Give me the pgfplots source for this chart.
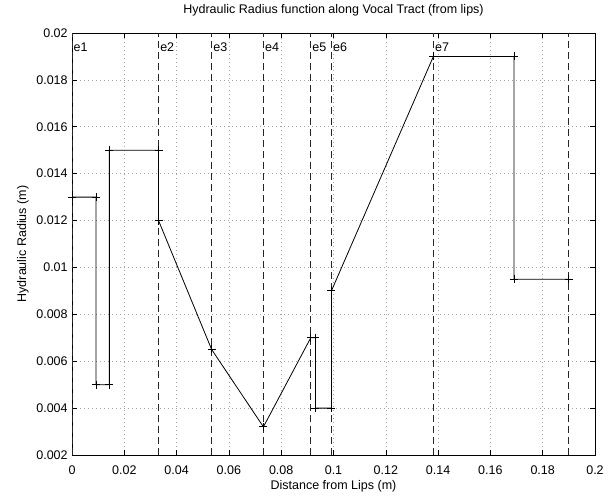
\documentclass[border=0pt]{standalone}
\usepackage{fontspec}
\setmainfont{Liberation Sans}
\usepackage{pgfplots}
\pgfplotsset{compat=1.18}

\begin{document}
\fontsize{12.5bp}{15bp}\selectfont
\begin{tikzpicture}
\path (0,0) rectangle (614bp,495bp);
\begin{axis}[
  at={(72bp,40bp)}, anchor=south west,
  scale only axis, width=523bp, height=422bp,
  xmin=0, xmax=0.2, ymin=0.002, ymax=0.02,
  xtick={0,0.02,0.04,0.06,0.08,0.1,0.12,0.14,0.16,0.18,0.2},
  ytick={0.002,0.004,0.006,0.008,0.01,0.012,0.014,0.016,0.018,0.02},
  scaled ticks=false,
  /pgf/number format/.cd, fixed, precision=3, assume math mode=true, /pgfplots/.cd,
  tick align=inside, major tick length=5bp,
  tick style={black, line width=0.6bp},
  axis line style={black, line width=0.9bp},
  grid=major,
  grid style={gray!70, line width=0.6bp, dash pattern=on 1bp off 3bp},
  xticklabel style={yshift=-6bp},
  title={Hydraulic Radius function along Vocal Tract (from lips)},
  title style={at={(0.5,1)}, anchor=base, yshift=13.5bp},
  xlabel={Distance from Lips (m)},
  xlabel style={at={(0.5,0)}, anchor=base, yshift=-34.3bp},
  ylabel={Hydraulic Radius (m)},
  ylabel style={at={(-0.0937,0.5)}, anchor=center},
  every axis plot/.append style={line width=0.8bp},
]
% boundary lines e1..e7 and end
\addplot[black!85, dash pattern=on 7bp off 4bp] coordinates {(0,0.002) (0,0.02)};
\addplot[black!85, dash pattern=on 7bp off 4bp] coordinates {(0.0331,0.002) (0.0331,0.02)};
\addplot[black!85, dash pattern=on 7bp off 4bp] coordinates {(0.0534,0.002) (0.0534,0.02)};
\addplot[black!85, dash pattern=on 7bp off 4bp] coordinates {(0.0732,0.002) (0.0732,0.02)};
\addplot[black!85, dash pattern=on 7bp off 4bp] coordinates {(0.0913,0.002) (0.0913,0.02)};
\addplot[black!85, dash pattern=on 7bp off 4bp] coordinates {(0.0992,0.002) (0.0992,0.02)};
\addplot[black!85, dash pattern=on 7bp off 4bp] coordinates {(0.1382,0.002) (0.1382,0.02)};
\addplot[black!85, dash pattern=on 7bp off 4bp] coordinates {(0.190,0.002) (0.190,0.02)};

% hydraulic radius
\addplot[black, mark=+, mark size=4bp, mark options={solid, line width=0.8bp}] coordinates {
  (0,0.013) (0.0092,0.013) (0.0092,0.005) (0.0143,0.005) (0.0143,0.015)
  (0.0331,0.015) (0.0331,0.012) (0.0534,0.0065) (0.0732,0.0032)
  (0.0913,0.007) (0.0931,0.007) (0.0931,0.004) (0.0992,0.004) (0.0992,0.009)
  (0.1382,0.019) (0.169,0.019) (0.169,0.0095) (0.190,0.0095)
};

\node[anchor=west, inner sep=1.5bp] at (axis cs:0,0.0194) {e1};
\node[anchor=west, inner sep=1.5bp] at (axis cs:0.0331,0.0194) {e2};
\node[anchor=west, inner sep=1.5bp] at (axis cs:0.0534,0.0194) {e3};
\node[anchor=west, inner sep=1.5bp] at (axis cs:0.0732,0.0194) {e4};
\node[anchor=west, inner sep=1.5bp] at (axis cs:0.0913,0.0194) {e5};
\node[anchor=west, inner sep=1.5bp] at (axis cs:0.0992,0.0194) {e6};
\node[anchor=west, inner sep=1.5bp] at (axis cs:0.1382,0.0194) {e7};
\end{axis}
\end{tikzpicture}
\end{document}
